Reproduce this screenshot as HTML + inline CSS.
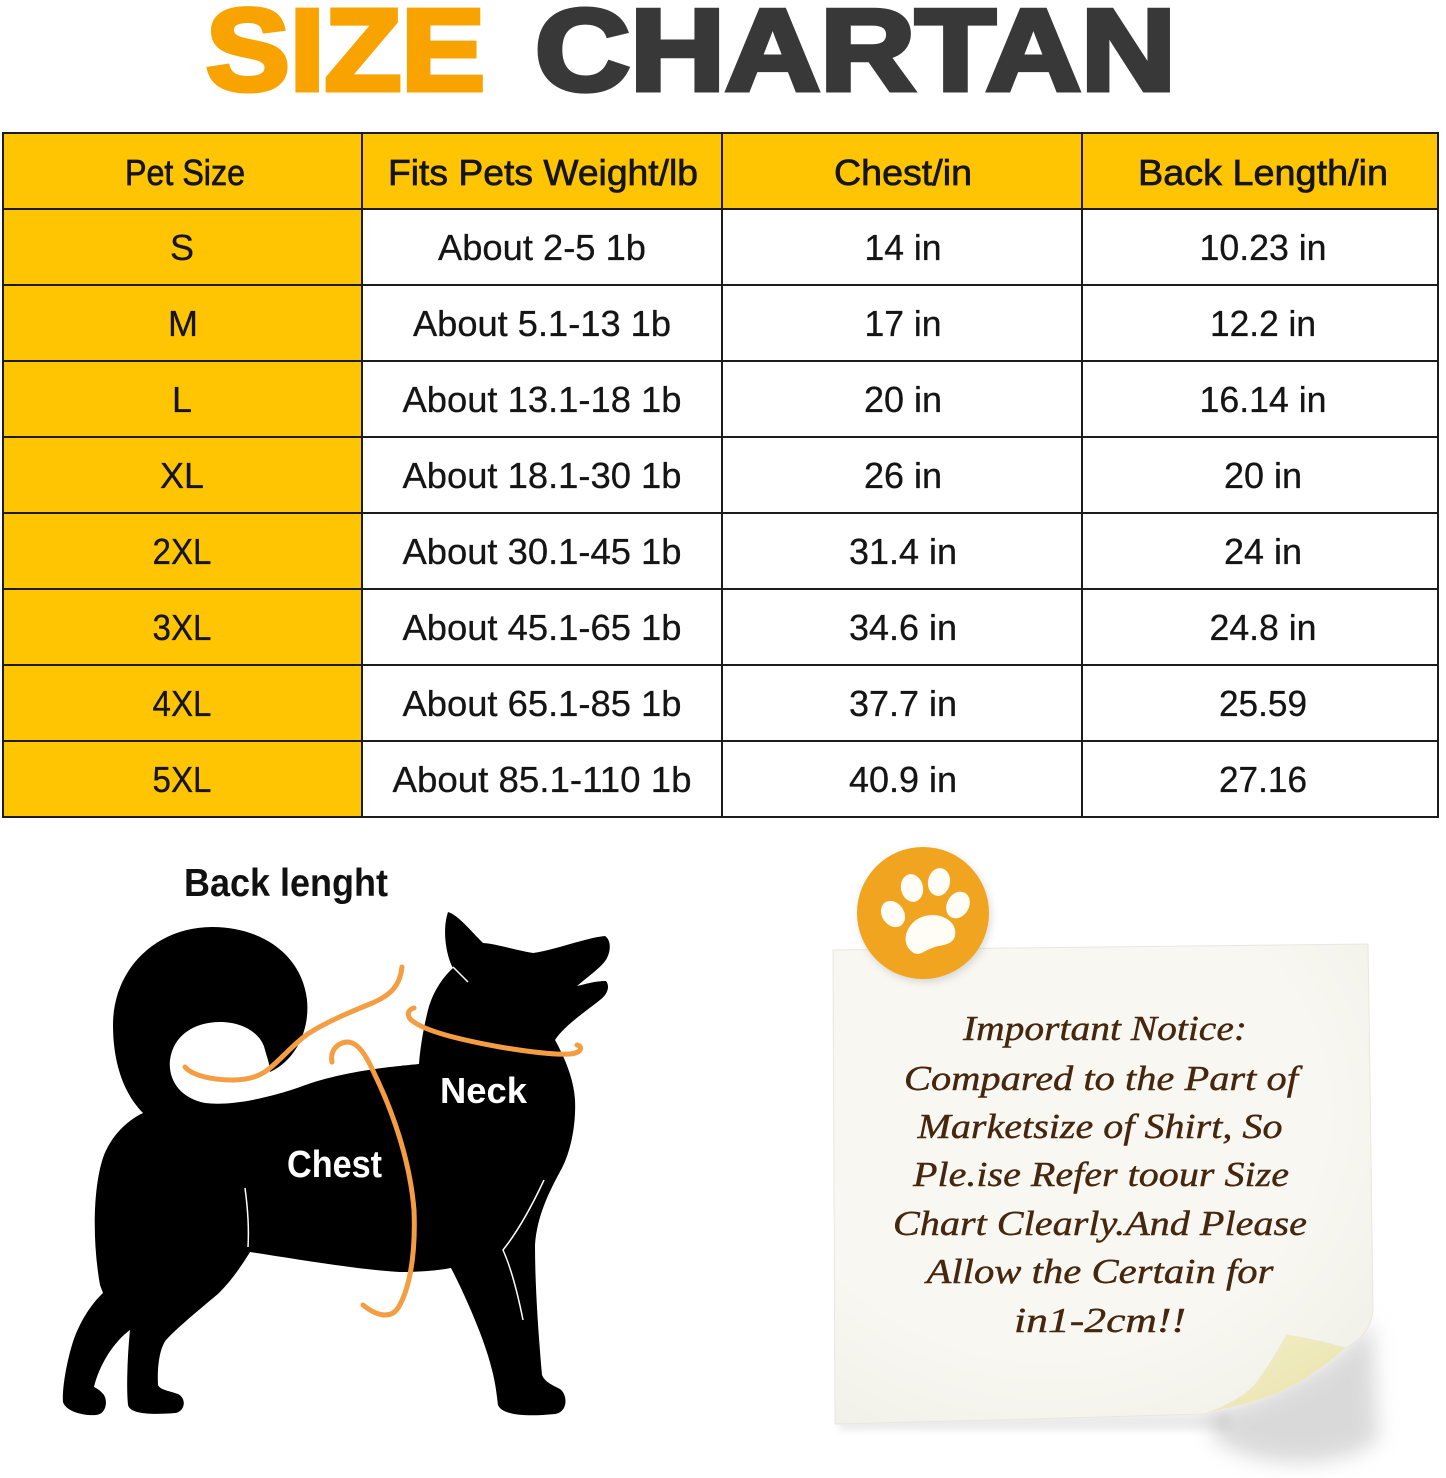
<!DOCTYPE html>
<html><head><meta charset="utf-8"><style>html,body{margin:0;padding:0;background:#fff}svg{display:block}</style></head>
<body>
<svg width="1446" height="1478" viewBox="0 0 1446 1478" xmlns="http://www.w3.org/2000/svg">
<defs>
  <filter id="blur8" x="-30%" y="-30%" width="160%" height="160%"><feGaussianBlur stdDeviation="10"/></filter>
  <filter id="blur4" x="-30%" y="-30%" width="160%" height="160%"><feGaussianBlur stdDeviation="4"/></filter>
  <linearGradient id="curl" x1="0" y1="0" x2="1" y2="1"><stop offset="0" stop-color="#F3EFC6"/><stop offset="1" stop-color="#E9E2AE"/></linearGradient>
  <radialGradient id="paper" cx="0.4" cy="0.35" r="0.85"><stop offset="0.6" stop-color="#F8F7F1"/><stop offset="1" stop-color="#EFEEE6"/></radialGradient>
</defs>
<rect width="1446" height="1478" fill="#fff"/>

<!-- Title -->
<text x="206" y="90" textLength="279" lengthAdjust="spacingAndGlyphs" font-family="Liberation Sans, sans-serif" font-weight="bold" font-size="116" fill="#F8A300" stroke="#F8A300" stroke-width="5">SIZE</text>
<text x="535" y="90" textLength="641" lengthAdjust="spacingAndGlyphs" font-family="Liberation Sans, sans-serif" font-weight="bold" font-size="116" fill="#383838" stroke="#383838" stroke-width="5">CHARTAN</text>

<!-- Table backgrounds -->
<rect x="3" y="133" width="1435" height="76" fill="#FFC502"/>
<rect x="3" y="209" width="359" height="608" fill="#FFC502"/>
<g stroke="#1c1c1c" stroke-width="2" fill="none">
  <rect x="3" y="133" width="1435" height="684"/>
  <line x1="3" y1="209" x2="1438" y2="209"/>
  <line x1="3" y1="285" x2="1438" y2="285"/>
  <line x1="3" y1="361" x2="1438" y2="361"/>
  <line x1="3" y1="437" x2="1438" y2="437"/>
  <line x1="3" y1="513" x2="1438" y2="513"/>
  <line x1="3" y1="589" x2="1438" y2="589"/>
  <line x1="3" y1="665" x2="1438" y2="665"/>
  <line x1="3" y1="741" x2="1438" y2="741"/>
  <line x1="362" y1="133" x2="362" y2="817"/>
  <line x1="722" y1="133" x2="722" y2="817"/>
  <line x1="1082" y1="133" x2="1082" y2="817"/>
</g>

<g font-family="Liberation Sans, sans-serif" font-size="36" fill="#151515" text-anchor="middle" stroke="#151515" stroke-width="0.7">
  <text x="185" y="185" textLength="120" lengthAdjust="spacingAndGlyphs">Pet Size</text>
  <text x="543" y="185" textLength="310" lengthAdjust="spacingAndGlyphs">Fits Pets Weight/lb</text>
  <text x="903" y="185" textLength="138" lengthAdjust="spacingAndGlyphs">Chest/in</text>
  <text x="1263" y="185" textLength="250" lengthAdjust="spacingAndGlyphs">Back Length/in</text>
</g>
<g font-family="Liberation Sans, sans-serif" font-size="36" fill="#151515" text-anchor="middle" stroke="#151515" stroke-width="0.3">
  <text x="182" y="260">S</text>
  <text x="542" y="260" textLength="208" lengthAdjust="spacingAndGlyphs">About 2-5 1b</text>
  <text x="903" y="260" textLength="77" lengthAdjust="spacingAndGlyphs">14 in</text>
  <text x="1263" y="260" textLength="127" lengthAdjust="spacingAndGlyphs">10.23 in</text>

  <text x="183" y="336">M</text>
  <text x="542" y="336" textLength="258" lengthAdjust="spacingAndGlyphs">About 5.1-13 1b</text>
  <text x="903" y="336" textLength="77" lengthAdjust="spacingAndGlyphs">17 in</text>
  <text x="1263" y="336" textLength="106" lengthAdjust="spacingAndGlyphs">12.2 in</text>

  <text x="182" y="412">L</text>
  <text x="542" y="412" textLength="279" lengthAdjust="spacingAndGlyphs">About 13.1-18 1b</text>
  <text x="903" y="412" textLength="78" lengthAdjust="spacingAndGlyphs">20 in</text>
  <text x="1263" y="412" textLength="127" lengthAdjust="spacingAndGlyphs">16.14 in</text>

  <text x="182" y="488">XL</text>
  <text x="542" y="488" textLength="279" lengthAdjust="spacingAndGlyphs">About 18.1-30 1b</text>
  <text x="903" y="488" textLength="78" lengthAdjust="spacingAndGlyphs">26 in</text>
  <text x="1263" y="488" textLength="78" lengthAdjust="spacingAndGlyphs">20 in</text>

  <text x="182" y="564" textLength="59" lengthAdjust="spacingAndGlyphs">2XL</text>
  <text x="542" y="564" textLength="279" lengthAdjust="spacingAndGlyphs">About 30.1-45 1b</text>
  <text x="903" y="564" textLength="108" lengthAdjust="spacingAndGlyphs">31.4 in</text>
  <text x="1263" y="564" textLength="78" lengthAdjust="spacingAndGlyphs">24 in</text>

  <text x="182" y="640" textLength="59" lengthAdjust="spacingAndGlyphs">3XL</text>
  <text x="542" y="640" textLength="279" lengthAdjust="spacingAndGlyphs">About 45.1-65 1b</text>
  <text x="903" y="640" textLength="108" lengthAdjust="spacingAndGlyphs">34.6 in</text>
  <text x="1263" y="640" textLength="107" lengthAdjust="spacingAndGlyphs">24.8 in</text>

  <text x="182" y="716" textLength="59" lengthAdjust="spacingAndGlyphs">4XL</text>
  <text x="542" y="716" textLength="279" lengthAdjust="spacingAndGlyphs">About 65.1-85 1b</text>
  <text x="903" y="716" textLength="108" lengthAdjust="spacingAndGlyphs">37.7 in</text>
  <text x="1263" y="716" textLength="88" lengthAdjust="spacingAndGlyphs">25.59</text>

  <text x="182" y="792" textLength="59" lengthAdjust="spacingAndGlyphs">5XL</text>
  <text x="542" y="792" textLength="299" lengthAdjust="spacingAndGlyphs">About 85.1-110 1b</text>
  <text x="903" y="792" textLength="108" lengthAdjust="spacingAndGlyphs">40.9 in</text>
  <text x="1263" y="792" textLength="88" lengthAdjust="spacingAndGlyphs">27.16</text>
</g>

<!-- Dog -->
<text x="184" y="896" textLength="204" lengthAdjust="spacingAndGlyphs" font-family="Liberation Sans, sans-serif" font-weight="bold" font-size="39" fill="#111">Back lenght</text>

<path fill="#000" d="
M 270,1072
C 296,1060 310,1030 307,1000
C 302,955 262,927 212,927
C 157,927 113,968 113,1025
C 113,1065 125,1095 143,1113
C 128,1120 112,1135 104,1155
C 93,1185 92,1240 100,1285
L 103,1293
C 90,1305 78,1325 72,1345
C 66,1365 62,1390 63,1402
C 66,1412 85,1416 96,1415
C 106,1414 108,1402 104,1395
C 100,1390 96,1388 94,1387
C 98,1370 110,1345 130,1330
C 128,1350 126,1385 128,1405
C 130,1414 150,1415 176,1413
C 186,1410 186,1398 178,1394
C 170,1391 160,1390 158,1385
C 157,1365 160,1348 166,1340
C 180,1325 205,1305 219,1293
C 232,1280 242,1265 250,1252
C 290,1258 360,1270 400,1272
C 425,1272 440,1270 451,1268
C 465,1295 485,1340 492,1370
C 496,1385 497,1398 498,1405
C 502,1415 525,1417 555,1414
C 568,1412 568,1395 560,1389
C 552,1385 545,1382 542,1375
C 539,1340 535,1290 535,1245
C 537,1215 550,1190 562,1168
C 572,1148 576,1122 575,1100
C 574,1080 565,1058 555,1040
C 565,1025 585,1012 600,1000
C 608,994 610,986 606,981
C 595,981 586,984 577,986
C 590,975 603,966 607,958
C 611,950 611,940 605,936
C 585,938 555,950 533,953
C 515,950 497,944 483,943
C 470,930 458,915 448,912
C 442,930 446,955 453,968
C 440,980 432,995 428,1010
C 423,1030 420,1050 419,1064
C 400,1066 345,1070 300,1087
C 265,1099 230,1106 205,1103
C 180,1098 168,1080 170,1060
C 173,1035 195,1022 220,1022
C 245,1022 262,1035 265,1050
C 268,1060 270,1066 270,1072 Z"/>
<g stroke="#fff" stroke-width="1.5" fill="none">
  <path d="M 245,1188 C 248,1210 249,1230 248,1247"/>
  <path d="M 544,1180 C 530,1210 515,1235 503,1250 C 512,1270 518,1295 523,1320"/>
  <path d="M 453,967 L 468,982"/>
</g>

<!-- orange measuring lines -->
<g stroke="#F49D43" stroke-width="5" fill="none" stroke-linecap="round">
  <path d="M 185,1067 C 192,1075 210,1080 233,1080 C 250,1080 262,1075 270,1068 C 282,1058 292,1046 305,1036 C 320,1025 345,1014 370,1004 C 392,995 400,985 402,967"/>
  <path d="M 414,1008 C 406,1010 407,1018 414,1022 C 425,1030 450,1038 500,1047 C 530,1052 555,1055 570,1054 C 582,1053 583,1046 577,1045"/>
  <path d="M 332,1062 C 330,1052 336,1043 347,1042 C 358,1042 366,1055 375,1075 C 392,1110 410,1160 414,1210 C 416,1260 408,1292 398,1308 C 390,1320 375,1315 363,1305"/>
</g>
<text x="287" y="1177" textLength="95" lengthAdjust="spacingAndGlyphs" font-family="Liberation Sans, sans-serif" font-weight="bold" font-size="38" fill="#fff">Chest</text>
<text x="440" y="1103" textLength="87" lengthAdjust="spacingAndGlyphs" font-family="Liberation Sans, sans-serif" font-weight="bold" font-size="36" fill="#fff">Neck</text>

<!-- Note paper -->
<path d="M 1210,1412 C 1280,1395 1340,1360 1372,1320 L 1378,1440 C 1340,1470 1260,1470 1215,1440 Z" fill="#b5b5b5" opacity="0.5" filter="url(#blur8)"/>
<path d="M 838,1418 L 1230,1412 L 1230,1430 L 840,1430 Z" fill="#bbb" opacity="0.3" filter="url(#blur4)"/>
<path d="M 833,950 L 1368,944 C 1370,1070 1372,1200 1373,1310 C 1372,1326 1362,1340 1345,1348 C 1325,1342 1305,1338 1287,1335 C 1275,1355 1265,1372 1255,1385 C 1240,1400 1222,1408 1205,1414 C 1080,1418 960,1421 835,1424 Z" fill="url(#paper)" stroke="#e8e7df" stroke-width="1"/>
<path d="M 1287,1335 C 1305,1338 1325,1342 1345,1348 C 1330,1362 1315,1372 1300,1382 C 1275,1396 1245,1405 1212,1411 C 1230,1403 1245,1395 1255,1385 C 1265,1372 1275,1355 1287,1335 Z" fill="url(#curl)"/>

<!-- paw badge -->
<circle cx="925" cy="916" r="66" fill="#999" opacity="0.35" filter="url(#blur4)"/>
<circle cx="923" cy="913" r="66" fill="#F0A41F"/>
<g fill="#FFFDF6">
  <ellipse cx="893" cy="914" rx="11" ry="14" transform="rotate(-35 893 914)"/>
  <ellipse cx="912" cy="888" rx="11" ry="14" transform="rotate(-12 912 888)"/>
  <ellipse cx="939" cy="882" rx="11" ry="14" transform="rotate(10 939 882)"/>
  <ellipse cx="958" cy="905" rx="11" ry="14" transform="rotate(30 958 905)"/>
  <path d="M 910,950 C 900,940 908,920 925,916 C 942,912 958,922 955,936 C 952,946 942,944 932,948 C 922,952 918,958 910,950 Z"/>
</g>

<g font-family="Liberation Serif, serif" font-style="italic" font-size="35" fill="#45260E" text-anchor="middle" stroke="#45260E" stroke-width="0.4">
  <text x="1105" y="1040" textLength="284" lengthAdjust="spacingAndGlyphs">Important Notice:</text>
  <text x="1101" y="1090" textLength="394" lengthAdjust="spacingAndGlyphs">Compared to the Part of</text>
  <text x="1100" y="1138" textLength="365" lengthAdjust="spacingAndGlyphs">Marketsize of Shirt, So</text>
  <text x="1101" y="1186" textLength="376" lengthAdjust="spacingAndGlyphs">Ple.ise Refer toour Size</text>
  <text x="1100" y="1235" textLength="414" lengthAdjust="spacingAndGlyphs">Chart Clearly.And Please</text>
  <text x="1100" y="1283" textLength="347" lengthAdjust="spacingAndGlyphs">Allow the Certain for</text>
  <text x="1100" y="1332" textLength="172" lengthAdjust="spacingAndGlyphs">in1-2cm!!</text>
</g>
</svg>
</body></html>
